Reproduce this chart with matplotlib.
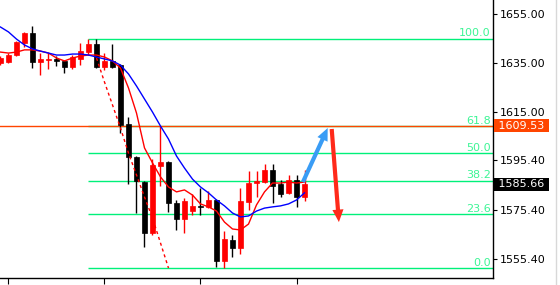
import numpy as np
import matplotlib
matplotlib.use("Agg")
import matplotlib.pyplot as plt
from matplotlib import transforms
from matplotlib.lines import Line2D


# --- Data (one bar per index) ---

opens = [1635.1, 1635.5, 1638.3, 1643.2, 1647.3, 1635.5, 1636.3, 1636.7, 1635.9, 1633.4,
         1636.7, 1639.5, 1642.8, 1633.4, 1635.9, 1634.2, 1610.2, 1596.8, 1586.6, 1565.9,
         1593.1, 1594.8, 1578.1, 1571.6, 1574.8, 1576.9, 1576.5, 1579.3, 1554.5, 1563.0,
         1559.8, 1578.5, 1586.2, 1586.6, 1591.5, 1585.8, 1582.2, 1587.4, 1580.5]
highs = [1637.9, 1639.1, 1644.0, 1647.7, 1650.1, 1639.1, 1639.1, 1637.9, 1636.3, 1638.3,
         1643.2, 1645.0, 1644.8, 1639.1, 1642.8, 1634.6, 1613.1, 1597.2, 1587.0, 1596.0,
         1609.5, 1595.2, 1579.3, 1580.1, 1581.7, 1584.2, 1583.0, 1579.7, 1566.7, 1565.1,
         1584.2, 1591.1, 1591.1, 1594.0, 1594.0, 1587.4, 1589.5, 1589.5, 1591.5]
lows = [1634.2, 1635.1, 1637.9, 1641.6, 1633.0, 1630.2, 1632.6, 1633.8, 1631.0, 1632.6,
        1634.2, 1638.3, 1633.0, 1632.2, 1633.0, 1606.6, 1585.8, 1574.0, 1560.2, 1565.1,
        1585.0, 1574.4, 1567.1, 1565.9, 1573.2, 1573.2, 1576.0, 1552.0, 1551.5, 1556.1,
        1557.3, 1575.2, 1580.5, 1586.2, 1578.1, 1580.5, 1581.7, 1576.5, 1578.9]
closes = [1637.1, 1638.3, 1643.6, 1647.3, 1635.5, 1636.7, 1636.7, 1635.9, 1633.4, 1637.5,
          1639.9, 1642.8, 1633.4, 1635.9, 1633.4, 1609.8, 1596.8, 1587.0, 1565.9, 1593.5,
          1594.8, 1578.1, 1571.6, 1578.9, 1576.9, 1576.5, 1579.3, 1554.5, 1563.4, 1559.8,
          1578.9, 1586.2, 1587.0, 1591.5, 1585.0, 1581.7, 1587.4, 1580.5, 1585.66]

ma_fast = [1639.5, 1639.1, 1639.5, 1640.4, 1640.4, 1639.9, 1639.1, 1637.1, 1635.9, 1637.1,
           1637.9, 1638.3, 1638.3, 1637.5, 1635.9, 1633.0, 1624.9, 1614.7, 1600.5, 1594.4,
           1588.7, 1584.6, 1582.6, 1583.4, 1581.3, 1577.7, 1576.5, 1574.8, 1570.3, 1567.5,
           1567.1, 1569.5, 1577.3, 1582.6, 1586.2, 1586.2, 1586.6, 1586.2, 1586.6]
ma_slow = [1649.7, 1647.7, 1644.8, 1642.4, 1640.8, 1639.9, 1639.1, 1638.3, 1638.3, 1638.7,
           1638.7, 1638.3, 1637.5, 1636.7, 1635.9, 1634.2, 1630.6, 1625.7, 1620.4, 1615.1,
           1609.4, 1604.1, 1597.2, 1592.3, 1587.8, 1584.6, 1582.2, 1579.3, 1576.9, 1574.0,
           1572.4, 1572.8, 1574.8, 1576.0, 1576.5, 1576.9, 1577.7, 1579.3, 1582.2]
dashed_start = 12
ma_dashed = [1637.1, 1627.3, 1618.0, 1608.6, 1598.4, 1589.5, 1580.5, 1572.0, 1561.8, 1551.6]

# Fibonacci retracement between bar 11 high and bar 28 low
fib_start = 11
fib_high = 1645.0
fib_low = 1551.5
fib_ratios = [0.0, 0.236, 0.382, 0.5, 0.618, 1.0]
fib_labels = ["0.0", "23.6", "38.2", "50.0", "61.8", "100.0"]

hline_price = 1609.53
last_price = 1585.66

ytick_vals = [1655.00, 1635.00, 1615.00, 1595.40, 1575.40, 1555.40]
ytick_labels = ["1655.00", "1635.00", "1615.00", "1595.40", "1575.40", "1555.40"]
xtick_bars = [1, 13, 25, 37]

# hand-drawn arrows: (bar, price) start -> end
up_arrow = ((37.8, 1586.6), (40.9, 1608.6))
down_arrow = ((41.4, 1608.2), (42.3, 1570.3))


# --- Figure ---
fig = plt.figure(figsize=(5.6, 2.85), dpi=100)
ax = fig.add_axes([0.0, 1 - 278 / 285, 493 / 560, 278 / 285])
ax.set_xlim(-0.06, 61.56)
ax.set_ylim(1547.55, 1660.70)

GREEN = "#00f07a"
ORANGE = "#ff4500"

# fib levels
fib_range = fib_high - fib_low
trans_lbl = transforms.blended_transform_factory(ax.transAxes, ax.transData)
for r, lbl in zip(fib_ratios, fib_labels):
    lvl = fib_low + r * fib_range
    ax.hlines(lvl, fib_start, 61.56, color=GREEN, lw=1.0, zorder=1)
    ax.annotate(lbl, xy=(1.0, lvl), xycoords=trans_lbl, xytext=(-1.5, 1.5),
                textcoords="offset points", ha="right", va="baseline",
                fontsize=8, color="#3cf595", zorder=5)

# horizontal line
ax.axhline(hline_price, color=ORANGE, lw=1.0, zorder=2)

# candles
x = np.arange(len(opens))
o = np.array(opens)
c = np.array(closes)
colors = np.where(c >= o, "#ff0000", "#000000")
ax.vlines(x, lows, highs, colors=colors, lw=1.0, zorder=3)
body_h = np.maximum(np.abs(c - o), 0.45)
ax.bar(x, body_h, bottom=np.minimum(o, c), width=0.62, color=colors,
       edgecolor=colors, linewidth=0.5, zorder=4)

# moving averages
ax.plot(x, ma_fast, color="#ff0000", lw=1.0, zorder=6)
ax.plot(x, ma_slow, color="#0000ff", lw=1.0, zorder=6)
xd = np.arange(dashed_start, dashed_start + len(ma_dashed))
ax.plot(xd, ma_dashed, color="#ff0000", lw=1.0, ls=(0, (2.2, 2.2)), zorder=6)

# arrows
ax.annotate("", xy=up_arrow[1], xytext=up_arrow[0],
            arrowprops=dict(arrowstyle="simple,head_length=0.9,head_width=0.8,tail_width=0.3",
                            mutation_scale=10, color="#3a9cf5", lw=0, shrinkA=0, shrinkB=0),
            zorder=7)
ax.annotate("", xy=down_arrow[1], xytext=down_arrow[0],
            arrowprops=dict(arrowstyle="simple,head_length=0.9,head_width=0.8,tail_width=0.3",
                            mutation_scale=10, color="#ff2a1a", lw=0, shrinkA=0, shrinkB=0),
            zorder=7)

# axes styling
for side in ["top", "left"]:
    ax.spines[side].set_visible(False)
ax.spines["right"].set_linewidth(1.0)
ax.spines["bottom"].set_linewidth(1.0)
ax.yaxis.tick_right()
ax.set_yticks(ytick_vals)
ax.set_yticklabels(ytick_labels)
ax.tick_params(axis="y", direction="out", length=3, width=0.8, pad=2, labelsize=8)
ax.set_xticks(xtick_bars)
ax.set_xticklabels([])
ax.tick_params(axis="x", direction="out", length=4, width=0.8)

# price tags on the right
ax.text(1.004, hline_price, " 1609.53 ", transform=trans_lbl, ha="left", va="center",
        fontsize=8, color="white", clip_on=False,
        bbox=dict(boxstyle="square,pad=0.12", fc=ORANGE, ec="none"))
ax.text(1.004, last_price, " 1585.66 ", transform=trans_lbl, ha="left", va="center",
        fontsize=8, color="white", clip_on=False,
        bbox=dict(boxstyle="square,pad=0.12", fc="black", ec="none"))

# scrollbar edge
fig.add_artist(Line2D([556 / 560, 556 / 560], [0, 1], color="#d8d8d8", lw=1.0))

fig.savefig("out.png", dpi=100)
